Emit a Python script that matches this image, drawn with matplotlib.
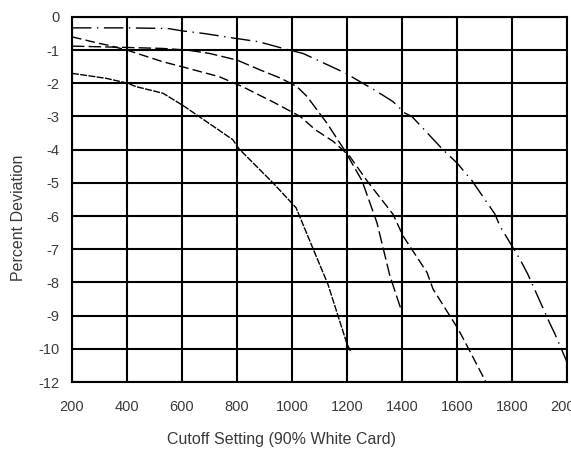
import numpy as np
import matplotlib
matplotlib.use("Agg")
import matplotlib.pyplot as plt

plt.rcParams['font.family'] = ['Liberation Sans', 'DejaVu Sans']

# y values are in plotted grid units; the bottom grid line is labelled -12
curve_a_x = [200, 324, 404, 433, 531, 604, 662, 785, 807, 931, 1015, 1076, 1131, 1200, 1215]
curve_a_y = [-1.7, -1.85, -2.0, -2.1, -2.3, -2.67, -3.0, -3.7, -3.97, -5.0, -5.75, -6.97, -8.06, -9.85, -10.1]

curve_b_x = [200, 400, 530, 620, 700, 800, 885, 960, 1018, 1055, 1127, 1190, 1255, 1309, 1356, 1400]
curve_b_y = [-0.88, -0.92, -0.95, -1.0, -1.1, -1.3, -1.6, -1.85, -2.1, -2.4, -3.2, -4.0, -4.94, -6.2, -7.8, -8.9]

curve_c_x = [200, 400, 550, 600, 680, 790, 880, 990, 1040, 1196, 1237, 1300, 1367, 1411, 1436,
             1549, 1600, 1655, 1738, 1756, 1829, 1858, 1938, 1956, 2000]
curve_c_y = [-0.33, -0.33, -0.35, -0.42, -0.5, -0.64, -0.75, -1.0, -1.1, -1.7, -1.9, -2.2, -2.55, -2.9, -3.0,
             -4.0, -4.4, -4.94, -5.94, -6.3, -7.3, -7.76, -9.24, -9.55, -10.4]

curve_d_x = [200, 300, 330, 400, 530, 600, 735, 820, 940, 1030, 1085, 1150, 1210, 1273, 1367,
             1404, 1491, 1513, 1604, 1636, 1709]
curve_d_y = [-0.6, -0.8, -0.85, -1.0, -1.35, -1.5, -1.8, -2.1, -2.6, -3.0, -3.4, -3.75, -4.2, -4.94, -5.94,
             -6.6, -7.7, -8.2, -9.4, -9.9, -11.06]

x_ticks = [200, 400, 600, 800, 1000, 1200, 1400, 1600, 1800, 2000]
y_ticks = [0, -1, -2, -3, -4, -5, -6, -7, -8, -9, -10, -11]
y_tick_labels = ['0', '-1', '-2', '-3', '-4', '-5', '-6', '-7', '-8', '-9', '-10', '-12']

fig = plt.figure(figsize=(5.71, 4.57), dpi=100)
ax = fig.add_axes([0.126, 0.164, 0.867, 0.799])

ax.plot(curve_a_x, curve_a_y, color='black', lw=1.0, dashes=(5, 1))
ax.plot(curve_b_x, curve_b_y, color='black', lw=1.0, dashes=(9, 3))
ax.plot(curve_c_x, curve_c_y, color='black', lw=1.0, dashes=(14, 4, 1, 4))
ax.plot(curve_d_x, curve_d_y, color='black', lw=1.0, dashes=(7, 3))

ax.set_xlim(200, 2000)
ax.set_ylim(-11, 0)
ax.set_xticks(x_ticks)
ax.set_yticks(y_ticks)
ax.set_yticklabels(y_tick_labels)
ax.grid(True, color='black', lw=1.5)
ax.set_axisbelow(True)
for s in ax.spines.values():
    s.set_linewidth(1.5)
ax.tick_params(length=0, labelsize=10.5, labelcolor='#3a3a3a')
ax.tick_params(axis='x', pad=13)
ax.tick_params(axis='y', pad=9)
for lab in ax.get_xticklabels():
    lab.set_clip_on(False)

ax.set_xlabel('Cutoff Setting (90% White Card)', fontsize=11.5, color='#3a3a3a')
ax.set_ylabel('Percent Deviation', fontsize=11.5, color='#3a3a3a')
# the labels in the original sit a little off centre
ax.xaxis.set_label_coords(0.424, -0.137)
ax.yaxis.set_label_coords(-0.093, 0.449)

fig.savefig('out.png', dpi=100)
